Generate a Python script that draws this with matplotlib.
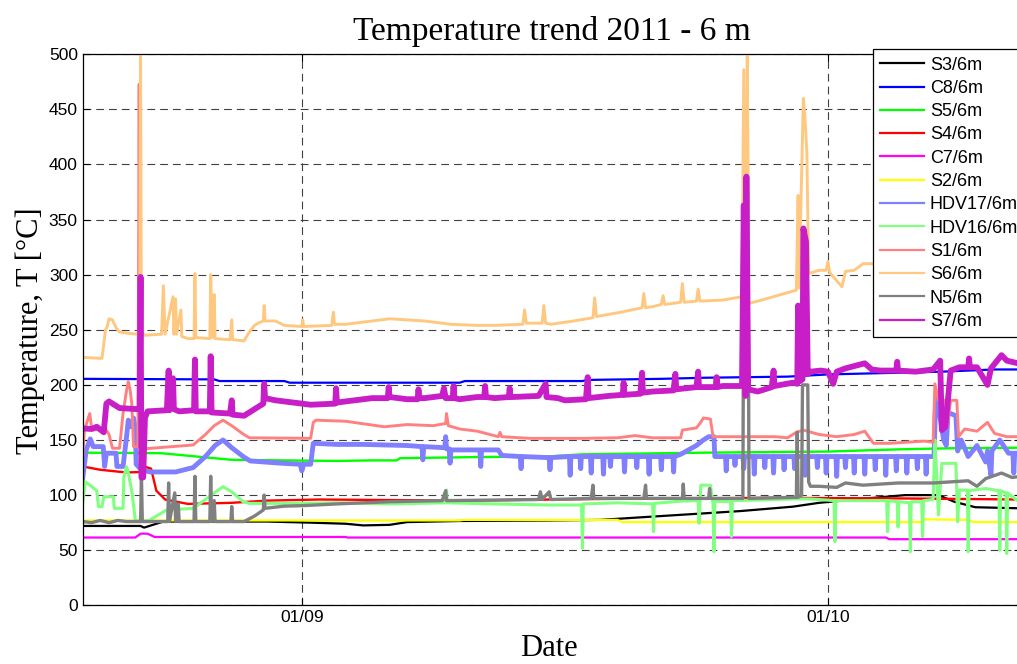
import numpy as np
import matplotlib
matplotlib.use("Agg")
import matplotlib.pyplot as plt
import matplotlib.dates as mdates
from matplotlib.lines import Line2D
from datetime import datetime

plt.rcParams["font.family"] = ["Liberation Sans", "DejaVu Sans"]

# ---------------- data (time = days since 2011-08-01 00:00) ----------------
BASE = datetime(2011, 8, 1)
X_START, X_END = 18.5, 72.0
TICK_DAYS = [31.0, 61.0]           # 01/09, 01/10

labels = ["S3/6m", "C8/6m", "S5/6m", "S4/6m", "C7/6m", "S2/6m",
          "HDV17/6m", "HDV16/6m", "S1/6m", "S6/6m", "N5/6m", "S7/6m"]

s3_t = [18.5, 21.8, 22.0, 22.3, 23.1, 29.0, 31.5, 33.5, 34.5, 36.0, 37.0, 40.0, 45.0, 48.0,
        52.5, 56.0, 59.0, 60.5, 62.5, 65.4, 67.3, 68.2, 69.4, 72.0]
s3_v = [72, 72, 70.5, 72, 76, 76, 75, 74, 72.5, 73, 75.5, 76.5, 77, 77.5,
        82, 85.5, 89.5, 93, 96, 100, 100, 94, 89, 88]

c8_t = [18.5, 26.0, 26.3, 30.0, 30.3, 40.0, 40.3, 47.0, 47.3, 51.5, 54.0, 58.7, 61.0, 67.5, 70.5, 72.0]
c8_v = [205.5, 205, 203.5, 203.5, 202, 202, 203.5, 203.5, 204.5, 205.5, 206.5, 207.5, 209.5, 212, 214, 214]

s5_t = [18.5, 23.0, 27.0, 33.0, 35.0, 36.4, 36.6, 41.0, 45.0, 47.0, 54.0, 61.0, 65.0, 68.0, 72.0]
s5_v = [138.5, 138, 132, 131, 131.5, 131.5, 133.5, 134.5, 135, 137, 138.5, 139.5, 141.5, 142.5, 143]

s4_t = [18.5, 19.5, 21.0, 21.8, 22.0, 22.4, 22.7, 23.2, 24.5, 27.0, 29.0, 32.0, 40.0, 48.0, 58.0, 65.0, 72.0]
s4_v = [126, 123, 120.5, 121, 126, 124, 104, 96, 92, 93, 95, 96, 95, 96.5, 97.5, 97, 96]

c7_t = [18.5, 21.5, 21.8, 22.2, 22.6, 33.5, 33.6, 64.3, 64.5, 72.0]
c7_v = [61.5, 61.5, 65, 65, 62, 62, 61.5, 61.5, 60, 60]

s2_t = [18.5, 40.0, 40.2, 49.0, 49.3, 66.3, 66.5, 69.0, 69.3, 72.0]
s2_v = [77, 77, 77.5, 77.5, 75.5, 75.5, 78, 77.5, 75.5, 75.5]

hdv17_pts = [
    (18.5, 115), (18.7, 141), (18.93, 151), (19.1, 144), (19.67, 144), (19.75, 126), (19.85, 138),
    (20.4, 138), (20.45, 126), (20.8, 126), (20.98, 150), (21.1, 168), (21.26, 162), (21.4, 170),
    (21.5, 160), (21.55, 128), (21.84, 123), (22.35, 121), (23.8, 121), (24.8, 125), (25.5, 135),
    (26.05, 145), (26.5, 150), (27.0, 143), (27.65, 135), (28.05, 131), (29.75, 129), (30.9, 128),
    (31.0, 122), (31.1, 128), (31.5, 128), (31.65, 147), (33.0, 146), (34.5, 146), (35.7, 145.5),
    (37.0, 145), (37.85, 144), (37.9, 132), (37.95, 144), (39.15, 143), (39.2, 153), (39.25, 142),
    (39.4, 142), (39.45, 129), (39.5, 141), (40.5, 141), (41.15, 141), (41.2, 126), (41.25, 141),
    (42.2, 141), (42.4, 136), (43.45, 135), (43.5, 124), (43.55, 135), (45.1, 134), (45.15, 123),
    (45.2, 134), (46.26, 135), (46.3, 118), (46.34, 135), (46.86, 135), (46.9, 124), (46.94, 135),
    (47.46, 135), (47.5, 120), (47.54, 135), (48.16, 135), (48.2, 119), (48.24, 135),
    (48.56, 135), (48.6, 126), (48.64, 135), (49.36, 135), (49.4, 121), (49.44, 135),
    (50.06, 135), (50.1, 125), (50.14, 135), (50.76, 135), (50.8, 119), (50.84, 135),
    (51.46, 135), (51.5, 123), (51.54, 135), (52.16, 135), (52.2, 121), (52.24, 135),
    (52.6, 137), (53.5, 145), (53.9, 150), (54.2, 153), (54.5, 153), (54.55, 135),
    (55.16, 135), (55.2, 122), (55.24, 135), (55.66, 135), (55.7, 127), (55.74, 135),
    (56.16, 135), (56.2, 124), (56.24, 135), (56.76, 135), (56.8, 119), (56.84, 135),
    (57.36, 135), (57.4, 125), (57.44, 135), (57.86, 135), (57.9, 120), (57.94, 135),
    (58.46, 135), (58.5, 123), (58.54, 135), (59.06, 135), (59.1, 124), (59.14, 135),
    (59.66, 135), (59.7, 118), (59.74, 135), (60.36, 135), (60.4, 125), (60.44, 135),
    (60.86, 135), (60.9, 120), (60.94, 135), (61.46, 135), (61.5, 117), (61.54, 135),
    (61.96, 135), (62.0, 125), (62.04, 135), (62.46, 135), (62.5, 120), (62.54, 135),
    (63.06, 135), (63.1, 119), (63.14, 135), (63.66, 135), (63.7, 123), (63.74, 135),
    (64.26, 135), (64.3, 118), (64.34, 135), (64.86, 135), (64.9, 122), (64.94, 135),
    (65.46, 135), (65.5, 120), (65.54, 135), (66.06, 135), (66.1, 124), (66.14, 135),
    (66.56, 135), (66.6, 119), (66.64, 135), (67.05, 135), (67.15, 189), (67.35, 175),
    (67.5, 160), (67.6, 150), (67.75, 145), (67.85, 175), (68.3, 172), (68.4, 140), (68.6, 150),
    (69.0, 135), (69.5, 145), (70.0, 130), (70.1, 140), (70.3, 118), (70.35, 140), (70.8, 150),
    (71.3, 138), (71.55, 138), (71.6, 120), (71.65, 138), (72.0, 138)]
hdv17_t = [p[0] for p in hdv17_pts]
hdv17_v = [p[1] for p in hdv17_pts]

hdv16_t = [18.5, 18.65, 19.0, 19.3, 19.4, 19.6, 19.7, 20.25, 20.3, 20.8, 20.85, 21.0, 21.1, 21.3,
           21.5, 21.8, 22.3, 22.8, 23.3, 24.8, 25.5, 26.0, 26.5, 27.0, 27.65, 28.0, 30.0, 33.0,
           36.0, 39.2, 39.25, 39.3, 42.0, 45.0, 46.95, 47.0, 47.05, 49.0, 51.0, 51.05, 51.1, 52.6,
           53.6, 53.65, 53.75, 54.3, 54.45, 54.5, 54.55, 55.45, 55.5, 55.55, 57.0, 59.0, 60.0, 61.35,
           61.4, 61.45, 63.0, 64.35, 64.4, 64.45, 64.95, 65.0, 65.05, 65.65, 65.7, 65.75, 66.35,
           66.4, 66.45, 67.0, 67.1, 67.2, 67.3, 67.5, 68.3, 68.4, 68.5, 68.95, 69.0, 69.05, 70.0,
           70.75, 70.8, 70.85, 71.15, 71.2, 71.25, 71.8, 72.0]
hdv16_v = [92.5, 112, 108, 104, 89.5, 89.5, 98.5, 98.5, 88, 88, 116.7, 125.8, 120, 104,
           77.4, 76, 77, 82, 86.5, 88, 96, 102, 107.6, 103, 94, 92.5, 92.5, 93,
           92, 93, 104.6, 93, 92, 91, 91, 51.7, 92, 93, 92, 66.8, 92.5, 94.5,
           95, 74.4, 109, 109, 92, 48.6, 94.5, 94, 62.3, 95, 95.5, 96.5, 96.5, 95,
           57.7, 95, 95, 95, 66.8, 95, 94, 71, 94, 93, 48.6, 94, 94,
           62.3, 95, 96, 150, 120, 82, 128.8, 128.8, 75.9, 104.6, 104.6, 48.6, 104, 106,
           104, 50, 104, 102, 47, 102, 95, 100]

s1_t = [18.5, 18.6, 18.9, 19.0, 19.1, 19.8, 20.0, 20.2, 20.6, 20.8, 21.0, 21.1, 21.2, 21.3,
        21.4, 21.65, 21.72, 21.78, 22.0, 24.8, 25.5, 26.0, 26.5, 27.0, 27.6, 28.0, 31.5, 31.65,
        31.8, 33.5, 35.7, 37.0, 38.5, 39.2, 39.25, 39.35, 40.0, 41.0, 42.2, 42.3, 42.4, 44.0,
        47.0, 49.0, 50.0, 51.0, 52.6, 52.7, 53.5, 53.7, 53.9, 54.3, 54.45, 58.0, 58.7, 59.2,
        59.6, 60.5, 61.5, 62.5, 63.1, 63.6, 64.5, 65.5, 66.5, 67.0, 67.1, 67.3, 67.7, 67.8,
        68.0, 68.35, 68.45, 68.8, 69.5, 70.1, 70.5, 71.2, 72.0]
s1_v = [135, 159, 174, 162, 159, 160, 155, 142.5, 142.5, 174, 195, 203, 196, 183,
        144, 144, 473, 143, 142, 145.5, 155, 163, 168, 163, 156, 152, 151.5, 166,
        168, 167, 162, 164, 163, 165, 174, 163, 160, 158, 153, 157, 153, 151.5,
        151.5, 152, 154, 152, 152, 159, 161, 165, 170, 169, 153, 153, 152, 157,
        159, 155, 153, 155, 158, 147, 147, 148, 149, 148, 201, 186, 186, 162,
        186, 186, 153, 160, 158, 166, 156, 153, 153]

s6_t = [18.5, 19.6, 19.8, 19.9, 20.0, 20.2, 20.4, 20.6, 21.0, 21.6, 21.75, 21.8, 21.85, 22.0,
        23.0, 23.1, 23.2, 23.65, 23.7, 23.8, 23.85, 24.1, 24.15, 24.5, 24.85, 24.9, 24.95,
        25.75, 25.8, 25.9, 26.0, 26.05, 26.9, 27.0, 27.05, 27.7, 28.0, 28.3, 28.5, 28.8, 28.85,
        28.9, 29.5, 30.0, 31.0, 31.05, 31.1, 32.7, 32.8, 32.85, 33.5, 35.0, 36.0, 37.0, 38.0,
        39.5, 41.0, 42.0, 43.6, 43.7, 43.8, 44.7, 44.8, 44.9, 45.2, 46.5, 47.6, 47.7, 47.8,
        49.2, 50.4, 50.5, 50.6, 51.0, 51.5, 51.6, 51.7, 52.6, 52.7, 52.8, 53.5, 53.6, 53.7,
        55.0, 56.1, 56.2, 56.35, 56.4, 56.5, 57.0, 59.2, 59.3, 59.35, 59.6, 59.7, 59.8, 59.9,
        60.5, 60.9, 61.0, 61.1, 61.8, 62.0, 62.5, 63.0, 63.5, 66.0, 72.0]
s6_v = [225, 224, 250, 253, 260, 259, 252, 248, 247, 246, 248, 498, 250, 245,
        246, 290, 246, 280, 246, 278, 246, 268, 244, 242, 242, 301, 243,
        242, 300, 243, 282, 242, 241, 259, 241, 240, 248, 254, 256, 258, 272,
        258, 258, 254, 253, 259, 253, 254, 266, 255, 255, 258, 260, 259, 258,
        255, 254, 254, 255, 268, 256, 256, 272, 256, 255, 258, 261, 279, 262,
        266, 270, 283, 270, 271, 273, 281, 273, 275, 292, 275, 276, 287, 276,
        277, 280, 486, 282, 498, 274, 276, 286, 372, 288, 460, 440, 410, 301,
        304, 304, 312, 302, 289, 303, 304, 310, 310, 308, 310]

n5_t = [18.5, 19.0, 19.5, 20.0, 20.5, 21.0, 21.8, 21.85, 21.9, 23.35, 23.4, 23.45, 23.75, 23.8,
        23.95, 24.0, 24.85, 24.9, 24.95, 25.75, 25.8, 25.85, 26.0, 26.05, 26.95, 27.0, 27.05,
        27.7, 28.3, 28.8, 28.85, 28.9, 30.0, 31.0, 33.0, 36.0, 39.0, 39.2, 39.25, 42.0, 44.5,
        44.6, 44.7, 45.1, 45.2, 47.5, 47.6, 47.65, 50.5, 50.6, 50.65, 52.7, 52.75, 52.8, 54.2,
        54.25, 54.3, 56.15, 56.2, 56.45, 56.5, 59.2, 59.25, 59.3, 59.5, 59.55, 59.85, 59.9,
        60.0, 60.5, 61.5, 62.0, 63.0, 64.0, 65.0, 66.0, 67.0, 68.0, 69.0, 69.5, 70.0, 70.9,
        71.5, 72.0]
n5_v = [76, 75, 77, 75, 77, 76, 76, 117, 76, 76, 111, 76, 102, 76,
        92, 76, 76, 117, 76, 76, 117, 76, 95, 76, 76, 89.5, 76,
        76, 81, 86.5, 100, 88, 90, 90.4, 92, 94, 95, 104, 95, 95.5, 96,
        103, 96, 103, 96, 97, 109, 97, 97, 109, 97, 97, 110, 97, 97,
        106, 97, 97, 330, 330, 97, 98, 157, 98, 100, 200, 200, 112,
        108, 108, 107, 111, 109, 110, 111, 111, 111, 112, 113, 108, 115, 120,
        116, 117]

s7_t = [18.5, 19.0, 19.3, 19.7, 19.85, 20.0, 20.3, 20.6, 21.6, 21.75, 21.8, 21.85, 21.95, 22.05,
        22.2, 23.3, 23.4, 23.45, 23.65, 23.7, 24.0, 24.85, 24.9, 24.95, 25.75, 25.8, 25.85,
        26.9, 27.0, 27.05, 27.7, 28.5, 28.8, 28.85, 28.9, 29.5, 30.5, 31.5, 32.9, 32.95, 33.0,
        34.0, 35.0, 35.9, 35.95, 36.0, 37.0, 37.6, 37.65, 37.7, 38.0, 39.0, 39.1, 39.2, 39.6,
        39.65, 39.7, 40.0, 41.0, 41.4, 41.45, 41.5, 42.0, 42.8, 42.85, 42.9, 43.0, 44.5, 44.9,
        44.95, 45.6, 46.0, 47.2, 47.3, 47.35, 48.5, 49.3, 49.35, 49.4, 50.3, 50.4, 50.45, 51.0,
        52.2, 52.3, 52.35, 53.5, 53.6, 53.65, 54.6, 54.65, 54.7, 55.0, 56.1, 56.2, 56.3, 56.35,
        56.45, 57.0, 57.8, 57.9, 57.95, 59.0, 59.25, 59.3, 59.35, 59.55, 59.6, 59.75, 59.85,
        60.0, 60.6, 61.0, 61.3, 61.5, 62.0, 63.1, 63.5, 64.0, 64.9, 64.95, 65.0, 66.0, 67.0,
        67.4, 67.5, 67.7, 68.0, 68.5, 69.0, 69.05, 69.1, 69.5, 70.1, 70.3, 70.9, 71.2, 72.0]
s7_v = [160.5, 160, 162, 157, 183, 185, 182, 179, 178, 178, 298, 116, 116, 170,
        176, 177, 213, 177, 206, 178, 176, 177, 223, 176, 176, 226, 175,
        174, 186, 173, 172, 180, 183, 201, 188, 186, 184, 182, 183, 197, 184,
        186, 188, 188, 198, 189, 187, 187, 196, 188, 188, 190, 197, 188, 188,
        199, 188, 187, 189, 189, 199, 189, 188, 189, 197, 189, 189, 190, 201,
        189, 188, 186, 187, 207, 188, 190, 191, 202, 191, 192, 211, 193, 194,
        195, 210, 196, 198, 212, 198, 198, 207, 198, 199, 199, 363, 190, 389,
        196, 194, 198, 213, 199, 202, 201, 272, 203, 205, 342, 330, 210,
        212, 213, 212, 201, 212, 215, 219.6, 214, 213, 213, 221, 213, 212, 214,
        222, 159, 162, 213, 216, 216, 224, 216, 216, 200, 215, 227, 222, 219]

series_t = [s3_t, c8_t, s5_t, s4_t, c7_t, s2_t, hdv17_t, hdv16_t, s1_t, s6_t, n5_t, s7_t]
series_v = [s3_v, c8_v, s5_v, s4_v, c7_v, s2_v, hdv17_v, hdv16_v, s1_v, s6_v, n5_v, s7_v]

colors = ["#000000", "#0000FF", "#00FF00", "#FF0000", "#FF00FF", "#FFFF00",
          "#8080FF", "#80FF80", "#FF8080", "#FFC880", "#808080", "#C81EC8"]
widths = [1.6, 1.6, 1.7, 1.7, 1.6, 1.6, 3.5, 2.2, 2.1, 2.1, 2.4, 4.2]

# ---------------- figure ----------------
W, H = 1017, 664
fig = plt.figure(figsize=(W / 100, H / 100), dpi=100)
ax = fig.add_axes([82.7 / W, 1 - 605.3 / H, (1020.8 - 82.7) / W, (605.3 - 54.3) / H])

base_num = mdates.date2num(BASE)
for t, v, c, lw in zip(series_t, series_v, colors, widths):
    ax.plot(base_num + np.asarray(t), v, color=c, lw=lw, solid_joinstyle="round")

ax.set_xlim(base_num + X_START, base_num + X_END)
ax.set_ylim(0, 500)
ax.set_yticks(np.arange(0, 501, 50))
ax.set_xticks([base_num + d for d in TICK_DAYS])
ax.xaxis.set_major_formatter(mdates.DateFormatter("%d/%m"))
ax.tick_params(direction="in", length=5, top=True, right=True, labelsize=12.5, width=0.8)
for s in ax.spines.values():
    s.set_linewidth(0.9)
ax.set_axisbelow(True)
ax.grid(True, linestyle=(0, (7, 4.5)), color="#404040", lw=0.8)

serif = ["Liberation Serif", "DejaVu Serif"]
ax.set_title("Temperature trend 2011 - 6 m", fontsize=24, family=serif, pad=10)
fig.text(30 / W, 1 - 330.5 / H, "Temperature, T [°C]", rotation=90, ha="center",
         va="center", fontsize=22, family=serif)
fig.text(548.5 / W, 1 - 648 / H, "Date", ha="center", va="center", fontsize=22, family=serif)

handles = [Line2D([], [], color=c, lw=1.6) for c in colors]
leg = ax.legend(handles, labels, loc="upper left", bbox_to_anchor=(872.7 / W, 1 - 49.3 / H),
                bbox_transform=fig.transFigure, borderaxespad=0, fancybox=False,
                framealpha=1, edgecolor="black", fontsize=13, handlelength=2.44,
                handletextpad=0.32, labelspacing=0.35, borderpad=0.4)
leg.get_frame().set_linewidth(0.9)

fig.savefig("out.png", dpi=100)
